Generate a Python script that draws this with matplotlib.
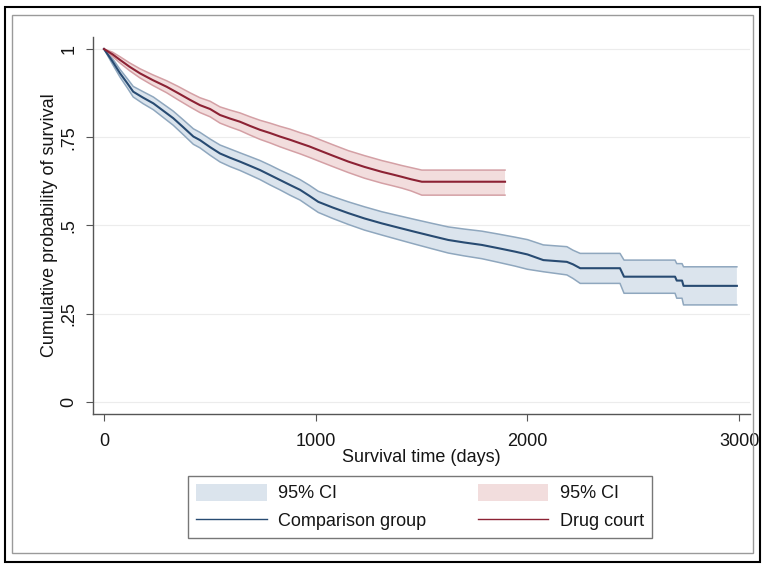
import matplotlib
matplotlib.use("Agg")
import matplotlib.pyplot as plt
from matplotlib.patches import Rectangle, Patch
from matplotlib.lines import Line2D

plt.rcParams['font.family'] = ['Liberation Sans', 'DejaVu Sans']

# Comparison group (repeated times mark the visible vertical steps)
comp_t = [0, 40, 76, 110, 138, 185, 233, 280, 327, 375, 422, 453, 501, 548, 595, 642, 690, 737,
          784, 831, 878, 926, 970, 1012, 1080, 1154, 1230, 1312, 1390, 1469, 1550, 1626, 1700,
          1784, 1860, 1941, 2000, 2075, 2186, 2215, 2249, 2437, 2456, 2697, 2705, 2730, 2737, 2989]
comp_s = [1.0, 0.965, 0.931, 0.903, 0.879, 0.862, 0.846, 0.825, 0.804, 0.778, 0.752, 0.742, 0.722,
          0.704, 0.692, 0.681, 0.669, 0.657, 0.643, 0.629, 0.615, 0.601, 0.584, 0.567, 0.551, 0.535,
          0.520, 0.506, 0.494, 0.482, 0.470, 0.459, 0.452, 0.445, 0.436, 0.426, 0.418, 0.402, 0.397,
          0.390, 0.379, 0.379, 0.355, 0.355, 0.344, 0.344, 0.329, 0.329]
comp_lo = [1.0, 0.957, 0.920, 0.890, 0.864, 0.845, 0.828, 0.806, 0.784, 0.757, 0.730, 0.720, 0.699,
           0.680, 0.667, 0.656, 0.643, 0.630, 0.615, 0.601, 0.586, 0.572, 0.554, 0.537, 0.520, 0.503,
           0.487, 0.473, 0.460, 0.447, 0.434, 0.422, 0.414, 0.406, 0.396, 0.385, 0.376, 0.369, 0.360,
           0.350, 0.336, 0.336, 0.308, 0.308, 0.294, 0.294, 0.275, 0.275]
comp_hi = [1.0, 0.973, 0.942, 0.916, 0.894, 0.879, 0.864, 0.844, 0.824, 0.799, 0.774, 0.764, 0.745,
           0.728, 0.717, 0.706, 0.695, 0.684, 0.671, 0.657, 0.644, 0.630, 0.614, 0.597, 0.582, 0.567,
           0.553, 0.539, 0.528, 0.517, 0.506, 0.496, 0.490, 0.484, 0.476, 0.467, 0.460, 0.445, 0.440,
           0.430, 0.421, 0.421, 0.402, 0.402, 0.392, 0.392, 0.383, 0.383]

# Drug court
drug_t = [0, 40, 76, 120, 170, 230, 296, 350, 406, 453, 501, 548, 595, 642, 690, 737, 784, 831,
          878, 926, 970, 1012, 1080, 1154, 1230, 1312, 1360, 1406, 1450, 1501, 1894]
drug_s = [1.0, 0.985, 0.969, 0.950, 0.931, 0.912, 0.893, 0.875, 0.856, 0.841, 0.830, 0.813, 0.803,
          0.794, 0.782, 0.771, 0.762, 0.752, 0.743, 0.733, 0.724, 0.714, 0.698, 0.681, 0.666, 0.652,
          0.645, 0.638, 0.631, 0.624, 0.624]
drug_lo = [1.0, 0.979, 0.960, 0.939, 0.918, 0.897, 0.876, 0.856, 0.836, 0.820, 0.808, 0.790, 0.779,
           0.769, 0.756, 0.744, 0.734, 0.723, 0.713, 0.703, 0.693, 0.683, 0.667, 0.650, 0.634, 0.620,
           0.613, 0.606, 0.598, 0.586, 0.586]
drug_hi = [1.0, 0.991, 0.978, 0.961, 0.944, 0.927, 0.910, 0.894, 0.876, 0.862, 0.852, 0.836, 0.827,
           0.819, 0.808, 0.798, 0.790, 0.781, 0.773, 0.763, 0.755, 0.745, 0.729, 0.712, 0.698, 0.684,
           0.677, 0.670, 0.664, 0.657, 0.657]

x_ticks = [0, 1000, 2000, 3000]
y_ticks = [0, 0.25, 0.5, 0.75, 1]
y_ticklabels = ['0', '.25', '.5', '.75', '1']

blue_line = '#284b72'
blue_fill = '#dbe4ed'
blue_edge = '#8fa7be'
red_line = '#8c2234'
red_fill = '#f2dddd'
red_edge = '#d4a0a5'
txt = '#151515'
FS = 13

W, H = 765, 565
fig = plt.figure(figsize=(W / 100, H / 100), dpi=100)
fig.patch.set_facecolor('white')

# outer frames
fig.add_artist(Rectangle((5 / W, 1 - 562 / H), 755 / W, 555 / H, transform=fig.transFigure,
                         fill=False, edgecolor='black', linewidth=1.5))
fig.add_artist(Rectangle((12 / W, 1 - 553 / H), 741 / W, 538 / H, transform=fig.transFigure,
                         fill=False, edgecolor='#9a9a9a', linewidth=1.0))

ax = fig.add_axes([93 / W, 1 - 414 / H, (750 - 93) / W, (414 - 37) / H])
ax.set_xlim(-52, 3051)
ax.set_ylim(-0.034, 1.034)

for yt in y_ticks:
    ax.axhline(yt, color='#ececec', linewidth=0.8, zorder=0)

ax.fill_between(comp_t, comp_lo, comp_hi, facecolor=blue_fill, edgecolor='none', zorder=1)
ax.plot(comp_t, comp_lo, color=blue_edge, linewidth=1.1, zorder=2)
ax.plot(comp_t, comp_hi, color=blue_edge, linewidth=1.1, zorder=2)
ax.fill_between(drug_t, drug_lo, drug_hi, facecolor=red_fill, edgecolor='none', zorder=1)
ax.plot(drug_t, drug_lo, color=red_edge, linewidth=1.1, zorder=2)
ax.plot(drug_t, drug_hi, color=red_edge, linewidth=1.1, zorder=2)
ax.plot(comp_t, comp_s, color=blue_line, linewidth=1.5, zorder=3)
ax.plot(drug_t, drug_s, color=red_line, linewidth=1.5, zorder=3)

for s in ['top', 'right']:
    ax.spines[s].set_visible(False)
for s in ['left', 'bottom']:
    ax.spines[s].set_color('#555555')
    ax.spines[s].set_linewidth(1.0)

ax.set_xticks(x_ticks)
ax.set_yticks(y_ticks)
ax.set_yticklabels(y_ticklabels, rotation=90, va='center')
ax.tick_params(axis='both', direction='out', length=5, width=0.8, color='#555555',
               labelsize=FS, labelcolor=txt)
ax.tick_params(axis='x', pad=9)
ax.tick_params(axis='y', pad=6)
ax.set_xlabel('Survival time (days)', fontsize=FS, color=txt, labelpad=-1)
ax.set_ylabel('Cumulative probability of survival', fontsize=FS, color=txt, labelpad=2)

handles = [Patch(facecolor=blue_fill, edgecolor='none'),
           Line2D([0], [0], color=blue_line, linewidth=1.0),
           Patch(facecolor=red_fill, edgecolor='none'),
           Line2D([0], [0], color=red_line, linewidth=1.0)]
labels = ['95% CI', 'Comparison group', '95% CI', 'Drug court']
leg = fig.legend(handles, labels, ncol=2, mode='expand',
                 bbox_to_anchor=(188 / W, 1 - 538 / H, (652 - 188) / W, (538 - 476) / H),
                 loc='lower left', borderaxespad=0, fontsize=FS, handlelength=3.9,
                 handleheight=1.05, fancybox=False, edgecolor='#777777', framealpha=1,
                 borderpad=0.45, labelspacing=0.5, columnspacing=1.7, handletextpad=0.65,
                 labelcolor=txt)
leg.get_frame().set_linewidth(1.0)

fig.savefig('out.png', dpi=100)
